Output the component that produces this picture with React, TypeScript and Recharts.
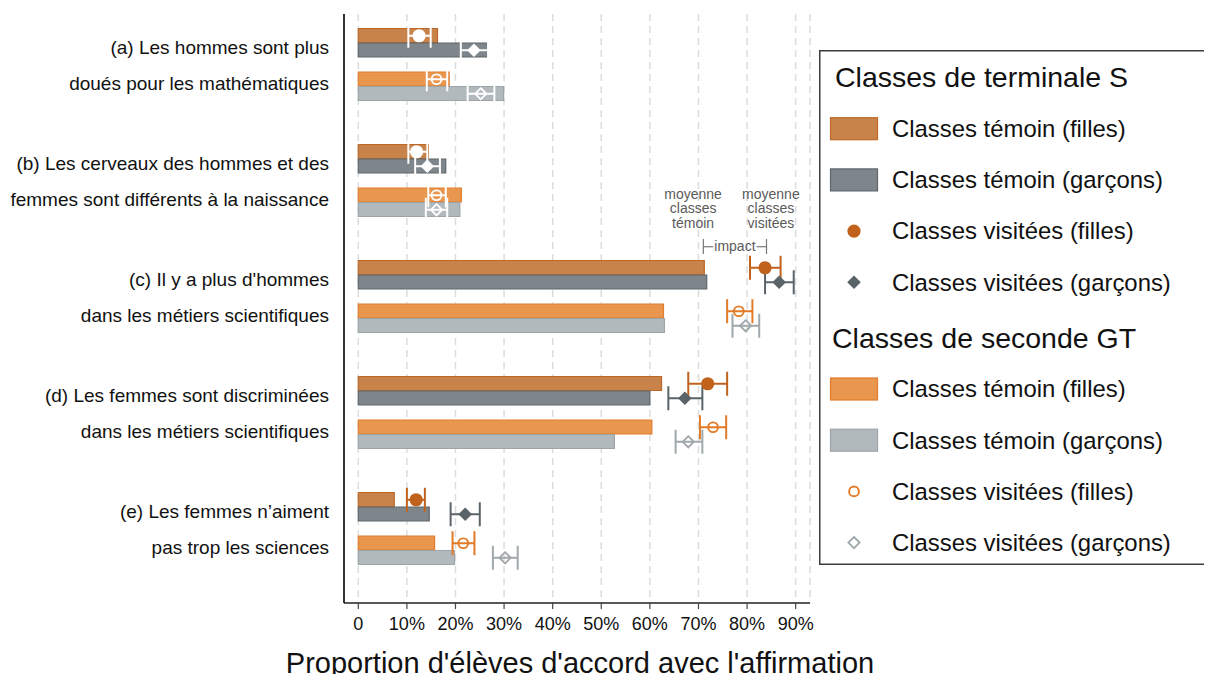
import React from 'react';
import {
  ComposedChart,
  Bar,
  Cell,
  Scatter,
  ErrorBar,
  XAxis,
  YAxis,
  CartesianGrid,
  ReferenceLine,
  ReferenceDot,
  Legend,
} from 'recharts';

// ---------- data ----------
const questionLine1 = [
  '(a) Les hommes sont plus',
  '(b) Les cerveaux des hommes et des',
  "(c) Il y a plus d'hommes",
  '(d) Les femmes sont discriminées',
  '(e) Les femmes n’aiment',
];
const questionLine2 = [
  'doués pour les mathématiques',
  'femmes sont différents à la naissance',
  'dans les métiers scientifiques',
  'dans les métiers scientifiques',
  'pas trop les sciences',
];

// Control classes (bars), in %
const temoinTermFilles = [16.3, 14.4, 71.2, 62.4, 7.4];
const temoinTermGarcons = [26.6, 18.0, 71.7, 60.0, 14.6];
const temoinSecFilles = [18.7, 21.2, 62.8, 60.4, 15.7];
const temoinSecGarcons = [29.9, 20.9, 63.0, 52.7, 19.8];

// Visited classes (points) with confidence interval bounds, in %
const visiteTermFilles = [12.5, 12.0, 83.7, 71.9, 11.9];
const visiteTermFillesLow = [10.3, 10.3, 80.6, 67.9, 10.0];
const visiteTermFillesHigh = [14.9, 14.2, 86.9, 75.9, 13.7];

const visiteTermGarcons = [23.8, 14.2, 86.6, 67.2, 22.0];
const visiteTermGarconsLow = [21.1, 11.7, 83.7, 63.8, 19.0];
const visiteTermGarconsHigh = [26.7, 16.8, 89.6, 70.8, 25.0];

const visiteSecFilles = [16.1, 16.1, 78.3, 73.0, 21.6];
const visiteSecFillesLow = [14.1, 14.4, 75.9, 70.3, 19.4];
const visiteSecFillesHigh = [18.3, 18.0, 81.1, 75.7, 23.9];

const visiteSecGarcons = [25.2, 16.1, 79.7, 67.9, 30.2];
const visiteSecGarconsLow = [22.5, 13.9, 77.0, 65.3, 27.7];
const visiteSecGarconsHigh = [28.0, 18.3, 82.5, 70.8, 32.8];

const xTicks = [0, 10, 20, 30, 40, 50, 60, 70, 80, 90];

// annotation anchors (group c), in %
const annotTemoinX = 68.9;
const annotVisiteX = 84.9;
const impactFrom = 71.0;
const impactTo = 84.0;

// ---------- styling / layout ----------
const FONT = '"Liberation Sans", Arial, Helvetica, sans-serif';
const FIRST = 1.5;
const STEP = 8;
const Y_MAX = 40.62;

type Kind = 'dot' | 'diamond' | 'ring' | 'hollowDiamond';

const series = [
  {
    slot: 0, temoin: temoinTermFilles, visite: visiteTermFilles, low: visiteTermFillesLow, high: visiteTermFillesHigh,
    barFill: '#C8834B', barStroke: '#BD6827', marker: '#C0621C', kind: 'dot' as Kind,
  },
  {
    slot: 1, temoin: temoinTermGarcons, visite: visiteTermGarcons, low: visiteTermGarconsLow, high: visiteTermGarconsHigh,
    barFill: '#7E868B', barStroke: '#5E666B', marker: '#5A6468', kind: 'diamond' as Kind,
  },
  {
    slot: 3, temoin: temoinSecFilles, visite: visiteSecFilles, low: visiteSecFillesLow, high: visiteSecFillesHigh,
    barFill: '#E9964F', barStroke: '#E27C2A', marker: '#E27A26', kind: 'ring' as Kind,
  },
  {
    slot: 4, temoin: temoinSecGarcons, visite: visiteSecGarcons, low: visiteSecGarconsLow, high: visiteSecGarconsHigh,
    barFill: '#B2B9BC', barStroke: '#9DA5A8', marker: '#A0A8AB', kind: 'hollowDiamond' as Kind,
  },
];

const posOf = (g: number, slot: number) => FIRST + STEP * g + slot;
const questionTicks = questionLine1.map((_, g) => FIRST + STEP * g + 2);

const barRows: { pos: number; bar: number; s: number }[] = [];
questionLine1.forEach((_, g) => {
  series.forEach((s, si) => {
    barRows.push({ pos: posOf(g, s.slot), bar: s.temoin[g], s: si });
  });
});

const scatterRows = series.map((s) =>
  s.visite.map((v, g) => ({
    pos: posOf(g, s.slot),
    v,
    err: [v - s.low[g], s.high[g] - v],
    inside: v < s.temoin[g],
  }))
);

function markerPath(kind: Kind, cx: number, cy: number, color: string) {
  switch (kind) {
    case 'dot':
      return <circle cx={cx} cy={cy} r={6.6} fill={color} stroke="none" />;
    case 'diamond':
      return (
        <path
          d={`M${cx},${cy - 6.8}L${cx + 6.8},${cy}L${cx},${cy + 6.8}L${cx - 6.8},${cy}Z`}
          fill={color}
          stroke="none"
        />
      );
    case 'ring':
      return <circle cx={cx} cy={cy} r={4.9} fill="none" stroke={color} strokeWidth={1.9} />;
    default:
      return (
        <path
          d={`M${cx},${cy - 5.6}L${cx + 5.6},${cy}L${cx},${cy + 5.6}L${cx - 5.6},${cy}Z`}
          fill="none"
          stroke={color}
          strokeWidth={1.8}
        />
      );
  }
}

const makeShape = (kind: Kind, color: string) => (props: any) => {
  const { cx, cy } = props;
  if (cx == null || cy == null) return <g />;
  return <g>{markerPath(kind, cx, cy, color)}</g>;
};

const YTick = (props: any) => {
  const { x, y, payload } = props;
  const g = questionTicks.indexOf(payload.value);
  if (g < 0) return <g />;
  return (
    <g>
      <text x={x} y={y - 11} textAnchor="end" fontSize={19} fontFamily={FONT} fill="#111">
        {questionLine1[g]}
      </text>
      <text x={x} y={y + 25} textAnchor="end" fontSize={19} fontFamily={FONT} fill="#111">
        {questionLine2[g]}
      </text>
    </g>
  );
};

const multiLineLabel = (lines: string[]) => (props: any) => {
  const vb = props.viewBox || {};
  const cx = (vb.x || 0) + (vb.width || 0) / 2;
  const cy = (vb.y || 0) + (vb.height || 0) / 2;
  return (
    <text x={cx} y={cy - 10.5} textAnchor="middle" fontSize={14} fontFamily={FONT} fill="#5a5a5a">
      {lines.map((l, i) => (
        <tspan key={i} x={cx} dy={i === 0 ? 0 : 14.5}>
          {l}
        </tspan>
      ))}
    </text>
  );
};

const impactLabel = (props: any) => {
  const vb = props.viewBox || {};
  const cx = (vb.x || 0) + (vb.width || 0) / 2;
  const cy = (vb.y || 0) + (vb.height || 0) / 2;
  return (
    <text x={cx} y={cy + 4.5} textAnchor="middle" fontSize={14} fontFamily={FONT} fill="#5a5a5a">
      impact
    </text>
  );
};

const xTitle = (props: any) => {
  const vb = props.viewBox || {};
  const cx = (vb.x || 0) + (vb.width || 0) / 2 + 3;
  const y = (vb.y || 0) + 70;
  return (
    <text x={cx} y={y} textAnchor="middle" fontSize={29} fontFamily={FONT} fill="#111">
      Proportion d'élèves d'accord avec l'affirmation
    </text>
  );
};

const legendGroups = [
  { title: 'Classes de terminale S', titleX: 16, titleY: 36.5, itemY: 87 },
  { title: 'Classes de seconde GT', titleX: 13, titleY: 298, itemY: 347.3 },
];
const legendLabels = [
  'Classes témoin (filles)',
  'Classes témoin (garçons)',
  'Classes visitées (filles)',
  'Classes visitées (garçons)',
];

const LegendBox = () => {
  const legendSeries = [
    [series[0], series[1]],
    [series[2], series[3]],
  ];
  return (
    <svg width={400} height={520} style={{ display: 'block' }}>
      <rect x={0.75} y={0.75} width={420} height={513.5} fill="#fff" stroke="#3c3c3c" strokeWidth={1.5} />
      {legendGroups.map((grp, gi) => {
        const [fs, gs] = legendSeries[gi];
        const items = [
          { type: 'bar', s: fs },
          { type: 'bar', s: gs },
          { type: 'mark', s: fs },
          { type: 'mark', s: gs },
        ];
        return (
          <g key={gi}>
            <text x={grp.titleX} y={grp.titleY} fontSize={28.5} fontFamily={FONT} fill="#111">
              {grp.title}
            </text>
            {items.map((it, ii) => {
              const base = grp.itemY + ii * 51.2;
              const cy = base - 8.3;
              return (
                <g key={ii}>
                  {it.type === 'bar' ? (
                    <rect
                      x={11.5}
                      y={cy - 11}
                      width={47}
                      height={22}
                      fill={it.s.barFill}
                      stroke={it.s.barStroke}
                      strokeWidth={1.2}
                    />
                  ) : (
                    markerPath(it.s.kind, 35, cy, it.s.marker)
                  )}
                  <text x={73} y={base} fontSize={23.9} fontFamily={FONT} fill="#111">
                    {legendLabels[ii]}
                  </text>
                </g>
              );
            })}
          </g>
        );
      })}
    </svg>
  );
};

export default function App() {
  return (
    <div
      style={{
        position: 'relative',
        width: 1212,
        height: 682,
        margin: -8,
        background: '#fff',
        overflow: 'hidden',
        fontFamily: FONT,
      }}
    >
      <ComposedChart
        width={1212}
        height={682}
        data={barRows}
        layout="vertical"
        margin={{ top: 14, right: 402, bottom: 0, left: 0 }}
      >
        <CartesianGrid
          vertical={true}
          horizontal={false}
          stroke="#dcdcdc"
          strokeWidth={1.5}
          strokeDasharray="7 5"
        />
        <XAxis
          type="number"
          domain={[-2.94, 92.95]}
          allowDataOverflow
          ticks={xTicks}
          interval={0}
          height={79}
          tickSize={6}
          tickMargin={8}
          tickFormatter={(v: number) => (v === 0 ? '0' : `${v}%`)}
          tick={{ fontSize: 18, fill: '#111', fontFamily: FONT }}
          axisLine={{ stroke: '#222', strokeWidth: 1.5 }}
          tickLine={{ stroke: '#444', strokeWidth: 1.2 }}
          label={xTitle}
        />
        <YAxis
          type="number"
          dataKey="pos"
          domain={[0, Y_MAX]}
          allowDataOverflow
          ticks={questionTicks}
          interval={0}
          width={344}
          tickSize={6}
          tickMargin={9}
          tickLine={false}
          tick={<YTick />}
          axisLine={{ stroke: '#111', strokeWidth: 1.7 }}
        />
        <Bar dataKey="bar" barSize={14} isAnimationActive={false}>
          {barRows.map((r, i) => (
            <Cell key={i} fill={series[r.s].barFill} stroke={series[r.s].barStroke} strokeWidth={1.2} />
          ))}
        </Bar>
        {series.map((s, i) =>
          [true, false].map((inside) => {
            const data = scatterRows[i].filter((r) => r.inside === inside);
            if (!data.length) return null;
            const color = inside ? '#ffffff' : s.marker;
            return (
              <Scatter
                key={`${i}-${inside ? 'in' : 'out'}`}
                data={data}
                dataKey="v"
                shape={makeShape(s.kind, color)}
                isAnimationActive={false}
              >
                <ErrorBar dataKey="err" direction="x" width={12} stroke={color} strokeWidth={2} />
              </Scatter>
            );
          })
        )}
        <ReferenceDot
          x={annotTemoinX}
          y={FIRST + STEP * 2 - 4.02}
          r={1}
          fill="none"
          stroke="none"
          label={multiLineLabel(['moyenne', 'classes', 'témoin'])}
        />
        <ReferenceDot
          x={annotVisiteX}
          y={FIRST + STEP * 2 - 4.02}
          r={1}
          fill="none"
          stroke="none"
          label={multiLineLabel(['moyenne', 'classes', 'visitées'])}
        />
        <ReferenceLine
          segment={[
            { x: impactFrom, y: FIRST + STEP * 2 - 1.98 },
            { x: impactFrom, y: FIRST + STEP * 2 - 0.95 },
          ]}
          stroke="#777"
          strokeWidth={1.2}
        />
        <ReferenceLine
          segment={[
            { x: impactTo, y: FIRST + STEP * 2 - 1.98 },
            { x: impactTo, y: FIRST + STEP * 2 - 0.95 },
          ]}
          stroke="#777"
          strokeWidth={1.2}
        />
        <ReferenceLine
          segment={[
            { x: impactFrom, y: FIRST + STEP * 2 - 1.45 },
            { x: impactFrom + 2.05, y: FIRST + STEP * 2 - 1.45 },
          ]}
          stroke="#777"
          strokeWidth={1.2}
        />
        <ReferenceLine
          segment={[
            { x: impactTo - 2.05, y: FIRST + STEP * 2 - 1.45 },
            { x: impactTo, y: FIRST + STEP * 2 - 1.45 },
          ]}
          stroke="#777"
          strokeWidth={1.2}
        />
        <ReferenceDot
          x={(impactFrom + impactTo) / 2}
          y={FIRST + STEP * 2 - 1.45}
          r={1}
          fill="none"
          stroke="none"
          label={impactLabel}
        />
        <Legend
          layout="vertical"
          align="center"
          verticalAlign="middle"
          wrapperStyle={{ left: 819, top: 50, width: 400, height: 520 }}
          content={() => <LegendBox />}
        />
      </ComposedChart>
    </div>
  );
}
